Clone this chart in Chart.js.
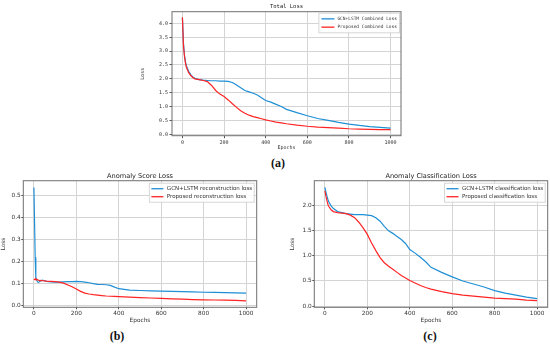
<!DOCTYPE html>
<html>
<head>
<meta charset="utf-8">
<script src="https://cdn.jsdelivr.net/npm/chart.js@4.4.0/dist/chart.umd.min.js"></script>
<style>
html, body { margin: 0; padding: 0; background: #fff; width: 550px; height: 345px; overflow: hidden; }
.wrap { position: absolute; }
.cap { position: absolute; font-family: "Liberation Serif", serif; font-weight: bold; font-size: 12px; color: #111; transform: translate(-50%, -50%); }
</style>
</head>
<body>
<div class="wrap" style="left:140px;top:0px"><canvas id="chartA" width="270" height="152"></canvas></div>
<div class="wrap" style="left:0px;top:170px"><canvas id="chartB" width="265" height="156"></canvas></div>
<div class="wrap" style="left:289px;top:170px"><canvas id="chartC" width="261" height="156"></canvas></div>
<div class="cap" style="left:278px;top:163px">(a)</div>
<div class="cap" style="left:117px;top:336px">(b)</div>
<div class="cap" style="left:430px;top:336px">(c)</div>
<script>
// ---- data ----
const X_TICKS = [0, 200, 400, 600, 800, 1000];

// (a) total loss
const EPOCHS_A = [0, 5, 10, 15, 20, 30, 40, 50, 60, 80, 100, 120, 140, 160, 180, 200, 220, 240, 260, 280, 300, 320, 340, 360, 380, 400, 425, 450, 475, 500, 550, 600, 650, 700, 750, 800, 850, 900, 950, 1000];
const GCN_TOTAL = [4.2, 3.3, 2.85, 2.6, 2.45, 2.27, 2.15, 2.07, 2.02, 1.97, 1.95, 1.94, 1.93, 1.93, 1.92, 1.92, 1.91, 1.87, 1.78, 1.68, 1.58, 1.53, 1.48, 1.42, 1.32, 1.22, 1.16, 1.08, 1.0, 0.9, 0.78, 0.67, 0.57, 0.5, 0.43, 0.37, 0.32, 0.28, 0.25, 0.22];
const OURS_TOTAL = [4.22, 3.2, 2.8, 2.55, 2.4, 2.22, 2.12, 2.05, 2.0, 1.97, 1.94, 1.9, 1.76, 1.58, 1.45, 1.36, 1.24, 1.1, 0.97, 0.85, 0.76, 0.69, 0.64, 0.6, 0.56, 0.52, 0.48, 0.44, 0.41, 0.38, 0.33, 0.29, 0.26, 0.24, 0.22, 0.2, 0.19, 0.18, 0.17, 0.17];
const Y_TICKS_A = [0, 0.5, 1.0, 1.5, 2.0, 2.5, 3.0, 3.5, 4.0];
const LABELS_A = ['GCN+LSTM Combined Loss', 'Proposed Combined Loss'];

// (b) anomaly score loss
const EPOCHS_B = [0, 3, 6, 9, 12, 15, 20, 25, 30, 40, 50, 60, 80, 100, 120, 140, 160, 180, 200, 220, 240, 260, 280, 300, 320, 340, 360, 380, 400, 425, 450, 500, 550, 600, 650, 700, 750, 800, 850, 900, 950, 1000];
const GCN_RECON = [0.535, 0.38, 0.22, 0.13, 0.12, 0.112, 0.107, 0.108, 0.113, 0.117, 0.114, 0.111, 0.109, 0.108, 0.108, 0.109, 0.11, 0.11, 0.111, 0.11, 0.108, 0.105, 0.101, 0.098, 0.097, 0.096, 0.093, 0.085, 0.078, 0.075, 0.072, 0.07, 0.068, 0.067, 0.066, 0.065, 0.064, 0.062, 0.061, 0.06, 0.059, 0.058];
const OURS_RECON = [0.118, 0.121, 0.119, 0.122, 0.118, 0.12, 0.117, 0.115, 0.116, 0.114, 0.113, 0.112, 0.111, 0.11, 0.108, 0.103, 0.095, 0.087, 0.077, 0.066, 0.058, 0.054, 0.051, 0.049, 0.047, 0.045, 0.044, 0.043, 0.042, 0.041, 0.04, 0.038, 0.036, 0.034, 0.032, 0.031, 0.029, 0.028, 0.027, 0.026, 0.025, 0.023];
const Y_TICKS_B = [0, 0.1, 0.2, 0.3, 0.4, 0.5];
const LABELS_B = ['GCN+LSTM reconstruction loss', 'Proposed reconstruction loss'];

// (c) anomaly classification loss
const EPOCHS_C = [0, 5, 10, 15, 20, 30, 40, 50, 60, 80, 100, 120, 140, 160, 180, 200, 220, 240, 260, 280, 300, 320, 340, 360, 380, 400, 425, 450, 475, 500, 550, 600, 650, 700, 750, 800, 850, 900, 950, 1000];
const GCN_CLASS = [2.35, 2.25, 2.17, 2.1, 2.05, 1.98, 1.93, 1.9, 1.87, 1.85, 1.83, 1.82, 1.81, 1.81, 1.81, 1.8, 1.79, 1.75, 1.68, 1.58, 1.49, 1.44, 1.38, 1.32, 1.24, 1.12, 1.05, 0.97, 0.88, 0.77, 0.67, 0.58, 0.5, 0.44, 0.38, 0.31, 0.26, 0.22, 0.18, 0.15];
const OURS_CLASS = [2.28, 2.17, 2.08, 2.0, 1.96, 1.9, 1.87, 1.86, 1.85, 1.84, 1.83, 1.8, 1.75, 1.66, 1.55, 1.42, 1.25, 1.1, 0.96, 0.86, 0.79, 0.73, 0.67, 0.61, 0.56, 0.51, 0.46, 0.41, 0.37, 0.34, 0.29, 0.25, 0.22, 0.2, 0.18, 0.16, 0.15, 0.14, 0.12, 0.11];
const Y_TICKS_C = [0, 0.5, 1.0, 1.5, 2.0];
const LABELS_C = ['GCN+LSTM classification loss', 'Proposed classification loss'];

const BLUE = '#1f8fd6';
const RED = '#ff2424';

// frame round the plot + matplotlib style legend box in the upper right
const frameAndLegend = {
  id: 'frameAndLegend',
  afterDatasetsDraw(chart, args, opts) {
    const ctx = chart.ctx;
    const a = chart.chartArea;
    ctx.save();
    ctx.strokeStyle = '#6f6f6f';
    ctx.lineWidth = 1;
    ctx.strokeRect(a.left, a.top, a.right - a.left, a.bottom - a.top);

    ctx.font = opts.fontSize + 'px ' + opts.family;
    const sets = chart.data.datasets;
    let tw = 0;
    sets.forEach(d => { tw = Math.max(tw, ctx.measureText(d.label).width); });
    const w = opts.pad + opts.lineLen + opts.gap + tw + opts.pad;
    const h = opts.rowH * sets.length + 3;
    const x0 = a.right - opts.inset - w;
    const y0 = a.top + opts.inset;
    ctx.fillStyle = 'rgba(255,255,255,0.85)';
    ctx.fillRect(x0, y0, w, h);
    ctx.strokeStyle = '#d6d6d6';
    ctx.strokeRect(x0, y0, w, h);
    sets.forEach((d, i) => {
      const yy = y0 + 1.5 + opts.rowH * (i + 0.5);
      ctx.strokeStyle = d.borderColor;
      ctx.lineWidth = 1.3;
      ctx.beginPath();
      ctx.moveTo(x0 + opts.pad, yy);
      ctx.lineTo(x0 + opts.pad + opts.lineLen, yy);
      ctx.stroke();
      ctx.fillStyle = '#333';
      ctx.textBaseline = 'middle';
      ctx.fillText(d.label, x0 + opts.pad + opts.lineLen + opts.gap, yy);
    });
    ctx.restore();
  }
};

function lossChart(id, cfg) {
  const pts = (xs, ys) => xs.map((x, i) => ({ x: x, y: ys[i] }));
  const font = { family: cfg.family, size: cfg.tickSize };
  return new Chart(document.getElementById(id), {
    type: 'line',
    data: {
      datasets: [
        { label: cfg.labels[0], data: pts(cfg.epochs, cfg.gcn), borderColor: BLUE, borderWidth: 1.2, pointRadius: 0, order: 1 },
        { label: cfg.labels[1], data: pts(cfg.epochs, cfg.ours), borderColor: RED, borderWidth: 1.2, pointRadius: 0, order: 0 }
      ]
    },
    options: {
      responsive: false,
      animation: false,
      events: [],
      layout: { padding: { right: cfg.padRight, left: 0, top: 0, bottom: 0 } },
      plugins: {
        legend: { display: false },
        tooltip: { enabled: false },
        title: {
          display: true, text: cfg.title, fullSize: false, color: '#222',
          font: { family: cfg.family, size: cfg.titleSize, weight: 'normal' },
          padding: cfg.titlePad
        },
        frameAndLegend: cfg.legend
      },
      scales: {
        x: {
          type: 'linear', min: -50, max: 1050,
          afterBuildTicks: s => { s.ticks = X_TICKS.map(v => ({ value: v })); },
          afterFit: s => { s.height = cfg.xH; },
          border: { display: false },
          grid: { color: '#d4d4d4', tickColor: '#555', tickLength: cfg.tickLen },
          ticks: { color: '#333', font: font, padding: cfg.tickPad, maxRotation: 0, callback: v => v },
          title: { display: true, text: 'Epochs', color: '#333', font: font, padding: cfg.xTitlePad }
        },
        y: {
          min: cfg.yMin, max: cfg.yMax,
          afterBuildTicks: s => { s.ticks = cfg.yTicks.map(v => ({ value: v })); },
          afterFit: s => { s.width = cfg.yW; },
          border: { display: false },
          grid: { color: '#d4d4d4', tickColor: '#555', tickLength: cfg.tickLen },
          ticks: { color: '#333', font: font, padding: cfg.tickPad, callback: v => v.toFixed(1) },
          title: { display: true, text: 'Loss', color: '#333', font: font, padding: cfg.yTitlePad }
        }
      }
    },
    plugins: [frameAndLegend]
  });
}

lossChart('chartA', {
  title: 'Total Loss', family: '"DejaVu Sans Mono", monospace', tickSize: 5, titleSize: 5.5,
  titlePad: { top: 3, bottom: 2.1 },
  epochs: EPOCHS_A, gcn: GCN_TOTAL, ours: OURS_TOTAL, labels: LABELS_A,
  yMin: -0.05, yMax: 4.42, yTicks: Y_TICKS_A,
  yW: 32, xH: 16.3, padRight: 9, tickLen: 2.5, tickPad: 1.5,
  xTitlePad: { top: 0, bottom: 1 }, yTitlePad: { top: 0, bottom: 9 },
  legend: { family: '"DejaVu Sans Mono", monospace', fontSize: 4.5, pad: 2.5, lineLen: 13, gap: 3, rowH: 8.3, inset: 1.5 }
});

lossChart('chartB', {
  title: 'Anomaly Score Loss', family: '"DejaVu Sans", sans-serif', tickSize: 5.8, titleSize: 6.6,
  titlePad: { top: 2, bottom: 0.8 },
  epochs: EPOCHS_B, gcn: GCN_RECON, ours: OURS_RECON, labels: LABELS_B,
  yMin: -0.006, yMax: 0.566, yTicks: Y_TICKS_B,
  yW: 23.3, xH: 18.7, padRight: 8.3, tickLen: 2, tickPad: 0.5,
  xTitlePad: { top: 0, bottom: 2.2 }, yTitlePad: { top: 0, bottom: 1.5 },
  legend: { family: '"DejaVu Sans", sans-serif', fontSize: 5.5, pad: 2, lineLen: 12, gap: 3.5, rowH: 8, inset: 2.5 }
});

lossChart('chartC', {
  title: 'Anomaly Classification Loss', family: '"DejaVu Sans", sans-serif', tickSize: 5.8, titleSize: 6.6,
  titlePad: { top: 2, bottom: 0.8 },
  epochs: EPOCHS_C, gcn: GCN_CLASS, ours: OURS_CLASS, labels: LABELS_C,
  yMin: -0.02, yMax: 2.48, yTicks: Y_TICKS_C,
  yW: 25.3, xH: 18.7, padRight: 2.3, tickLen: 2, tickPad: 0.5,
  xTitlePad: { top: 0, bottom: 2.2 }, yTitlePad: { top: 0, bottom: 1.5 },
  legend: { family: '"DejaVu Sans", sans-serif', fontSize: 5.5, pad: 2, lineLen: 12, gap: 3.5, rowH: 8, inset: 2.5 }
});
</script>
</body>
</html>
